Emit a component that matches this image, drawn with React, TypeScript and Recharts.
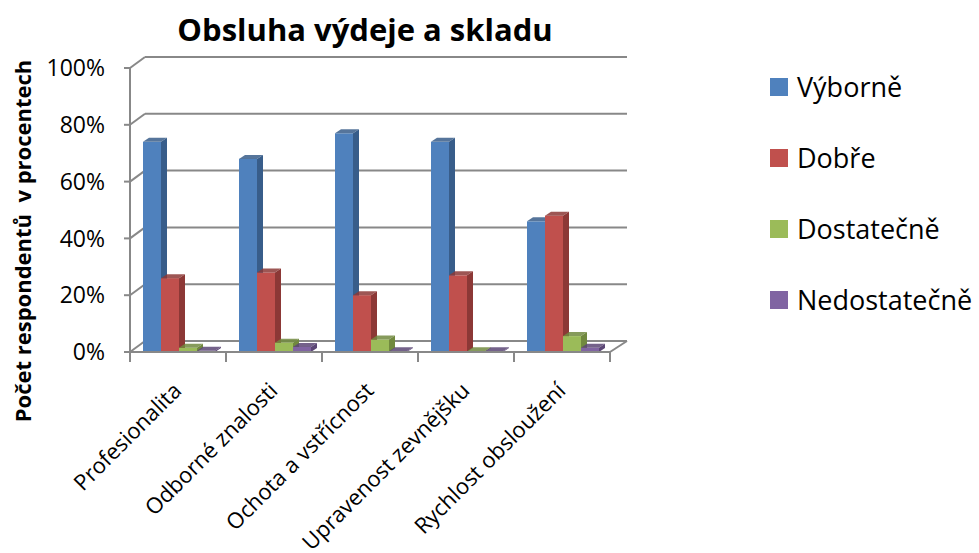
import { Bar, BarChart, CartesianGrid, XAxis, YAxis } from "recharts";

const categories = [
  "Profesionalita",
  "Odborné znalosti",
  "Ochota a vstřícnost",
  "Upravenost zevnějšku",
  "Rychlost obsloužení",
];
const vyborne = [74, 68, 77, 74, 46];
const dobre = [26, 28, 20, 27, 48];
const dostatecne = [1.5, 3.3, 4.4, 0.3, 5.6];
const nedostatecne = [0.4, 1.8, 0.3, 0.3, 1.5];
const yTicks = [0, 20, 40, 60, 80, 100];

const series = [
  { key: "vyborne", name: "Výborně", color: "#4F81BD", side: "#385D8A" },
  { key: "dobre", name: "Dobře", color: "#C0504D", side: "#8C3836" },
  { key: "dostatecne", name: "Dostatečně", color: "#9BBB59", side: "#71893F" },
  { key: "nedostatecne", name: "Nedostatečně", color: "#8064A2", side: "#5C4776" },
];

const data = categories.map((name, i) => ({
  name,
  vyborne: vyborne[i],
  dobre: dobre[i],
  dostatecne: dostatecne[i],
  nedostatecne: nedostatecne[i],
}));

const font = "'Open Sans', sans-serif";
const gridColor = "#888888";
const DX = 6;
const DY = 4;

// front face + darker side and top, like the old 3D column look
function Bar3D(props: any) {
  const { x, y, width, height, fill, side } = props;
  if (width == null || height == null) return null;
  const h = Math.max(height, 0);
  return (
    <g>
      <rect x={x} y={y} width={width} height={h} fill={fill} />
      <polygon
        points={`${x + width},${y} ${x + width + DX},${y - DY} ${x + width + DX},${y + h - DY} ${x + width},${y + h}`}
        fill={side}
      />
      <polygon
        points={`${x},${y} ${x + DX},${y - DY} ${x + width + DX},${y - DY} ${x + width},${y}`}
        fill={side}
        opacity={0.85}
      />
    </g>
  );
}

function GridLine(props: any) {
  const { x1, y1, x2, index } = props;
  return (
    <g key={`g-${index}-${y1}`}>
      <line x1={x1} y1={y1} x2={x1 + 15} y2={y1 - 11} stroke={gridColor} strokeWidth={2} />
      <line x1={x1 + 15} y1={y1 - 11} x2={x2 + 17} y2={y1 - 11} stroke={gridColor} strokeWidth={2} />
    </g>
  );
}

function CatTick(props: any) {
  const { x, y, payload, index, visibleTicksCount } = props;
  const half = payload.offset ?? 0;
  const tx = x + 5;
  const ty = y + 32;
  return (
    <g>
      <line x1={x - half} y1={y - 8} x2={x - half} y2={y + 2} stroke={gridColor} strokeWidth={2} />
      {index === visibleTicksCount - 1 && (
        <>
          <line x1={x + half} y1={y - 8} x2={x + half} y2={y + 2} stroke={gridColor} strokeWidth={2} />
          <line x1={x + half} y1={y - 8} x2={x + half + 17} y2={y - 19} stroke={gridColor} strokeWidth={2} />
        </>
      )}
      <text
        x={tx}
        y={ty}
        transform={`rotate(-45, ${tx}, ${ty})`}
        textAnchor="end"
        fontSize={22}
        fontFamily={font}
        fill="#000"
      >
        {payload.value}
      </text>
    </g>
  );
}

export default function App() {
  return (
    <div style={{ position: "absolute", left: 0, top: 0, width: 979, height: 553, background: "#fff", overflow: "hidden" }}>
      <div
        style={{
          position: "absolute",
          left: 0,
          width: 730,
          top: 9,
          textAlign: "center",
          fontFamily: font,
          fontWeight: 700,
          fontSize: 31,
          lineHeight: "40px",
        }}
      >
        Obsluha výdeje a skladu
      </div>
      <div
        style={{
          position: "absolute",
          left: 22,
          top: 241,
          transform: "translate(-50%, -50%) rotate(-90deg)",
          fontFamily: font,
          fontWeight: 700,
          fontSize: 22,
          whiteSpace: "pre",
        }}
      >
        Počet respondentů  v procentech
      </div>
      <div style={{ position: "absolute", left: 770, top: 51, fontFamily: font }}>
        {series.map((s) => (
          <div key={s.key} style={{ display: "flex", alignItems: "center", height: 71 }}>
            <span style={{ width: 18, height: 18, background: s.color, marginRight: 9 }} />
            <span style={{ fontSize: 27, color: "#000", whiteSpace: "nowrap" }}>{s.name}</span>
          </div>
        ))}
      </div>
      <BarChart
        width={979}
        height={553}
        data={data}
        margin={{ top: 68, right: 369, bottom: 0, left: 0 }}
        barCategoryGap={13}
        barGap={0}
      >
        <CartesianGrid vertical={false} horizontal={GridLine as any} />
        <XAxis
          dataKey="name"
          height={201}
          interval={0}
          tickLine={false}
          axisLine={{ stroke: gridColor, strokeWidth: 2 }}
          tick={<CatTick />}
        />
        <YAxis
          width={130}
          domain={[0, 100]}
          ticks={yTicks}
          tickFormatter={(v) => `${v}%`}
          tickSize={6}
          tickMargin={19}
          tickLine={{ stroke: gridColor, strokeWidth: 2 }}
          axisLine={{ stroke: gridColor, strokeWidth: 2 }}
          tick={{ fill: "#000", fontSize: 23, fontFamily: font }}
        />
        {series.map((s) => (
          <Bar
            key={s.key}
            dataKey={s.key}
            name={s.name}
            fill={s.color}
            isAnimationActive={false}
            shape={(p: any) => <Bar3D {...p} side={s.side} />}
          />
        ))}
      </BarChart>
    </div>
  );
}
